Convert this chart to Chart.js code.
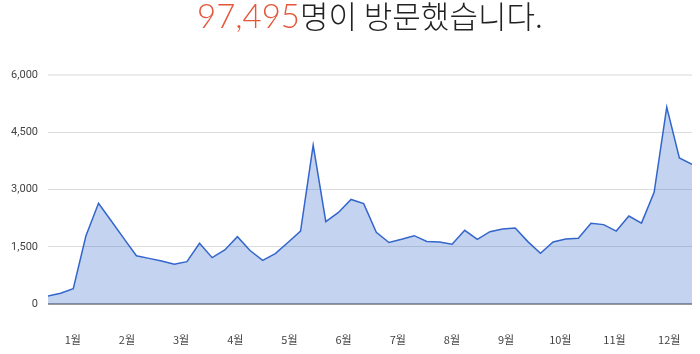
<!DOCTYPE html>
<html>
<head>
<meta charset="utf-8">
<script src="https://cdn.jsdelivr.net/npm/chart.js@4"></script>
<style>
  body { margin: 0; background: #fff; }
  #wrap { position: relative; width: 700px; height: 354px; }
  #title {
    position: absolute; left: 197px; top: -5px; white-space: nowrap;
    font-family: "Noto Sans CJK KR", "Noto Sans", sans-serif;
    font-size: 31px; font-weight: 300; line-height: 40px; color: #222;
  }
  #title .num { color: #e4573b; font-family: Lato, "Noto Sans", sans-serif; font-size: 33px; font-weight: 300; }
</style>
</head>
<body>
<div id="wrap">
  <canvas id="myChart" width="700" height="354"></canvas>
  <div id="title"><span class="num">97,495</span>명이 방문했습니다.</div>
</div>
<script>
// weekly visitors, 52 weeks
const visits = [
  210, 280, 400, 1780, 2640, 2180, 1720, 1265, 1195, 1125,
  1040, 1110, 1590, 1215, 1415, 1765, 1400, 1145, 1320, 1610,
  1910, 4165, 2160, 2400, 2740, 2630, 1880, 1610, 1695, 1790,
  1640, 1625, 1565, 1930, 1695, 1895, 1965, 1990, 1635, 1330,
  1625, 1700, 1720, 2115, 2080, 1910, 2305, 2120, 2925, 5160,
  3825, 3660
];
const weeks = visits.map((v, i) => i);
const monthLabels = ["1월", "2월", "3월", "4월", "5월", "6월", "7월", "8월", "9월", "10월", "11월", "12월"];
// month label positions, in weeks
const monthPos = [1.96, 6.25, 10.54, 14.83, 19.12, 23.41, 27.7, 31.99, 36.28, 40.57, 44.86, 49.2];
const yTicks = [0, 1500, 3000, 4500, 6000];

const ctx = document.getElementById("myChart");
new Chart(ctx, {
  type: "line",
  data: {
    datasets: [
      {
        data: weeks.map((w, i) => ({ x: w, y: visits[i] })),
        borderColor: "#3366cc",
        backgroundColor: "rgba(51,102,204,0.29)",
        borderWidth: 1.5,
        fill: "origin",
        pointRadius: 0,
        tension: 0,
      },
    ],
  },
  options: {
    responsive: false,
    animation: false,
    layout: { padding: { top: 75, right: 8, left: 0, bottom: 0 } },
    plugins: { legend: { display: false }, tooltip: { enabled: false } },
    scales: {
      x: {
        type: "linear",
        min: 0,
        max: visits.length - 1,
        grid: { display: false },
        border: { display: false },
        afterBuildTicks: (scale) => {
          scale.ticks = monthPos.map((v) => ({ value: v }));
        },
        afterFit: (scale) => {
          scale.height = 50;
          scale.paddingLeft = 0;
          scale.paddingRight = 0;
        },
        ticks: {
          autoSkip: false,
          maxRotation: 0,
          padding: 21,
          color: "#444",
          font: { size: 11, family: "'Noto Sans CJK KR', sans-serif" },
          callback: (v, i) => monthLabels[i],
        },
      },
      y: {
        min: 0,
        max: 6000,
        afterBuildTicks: (scale) => {
          scale.ticks = yTicks.map((v) => ({ value: v }));
        },
        afterFit: (scale) => { scale.width = 48; },
        border: { display: false },
        grid: {
          drawTicks: false,
          color: (c) => {
            if (!c.tick) return "#e0e0e0";
            if (c.tick.value === 0) return "#999";
            if (c.tick.value === 6000) return "#ebebeb";
            return "#dcdcdc";
          },
          lineWidth: (c) => (c.tick && (c.tick.value === 0 || c.tick.value === 6000) ? 2 : 1),
        },
        ticks: {
          padding: 10,
          color: "#444",
          font: { size: 11, family: "Roboto, Arial, sans-serif" },
          callback: (v) => v.toLocaleString("en-US"),
        },
      },
    },
  },
});
</script>
</body>
</html>
